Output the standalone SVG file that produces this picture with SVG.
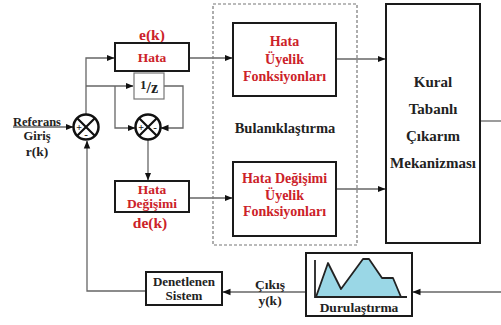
<svg xmlns="http://www.w3.org/2000/svg" width="501" height="325" viewBox="0 0 501 325">
<style>
.box{fill:#fff;stroke:#1a1a1a;stroke-width:2}
.thin{fill:#fff;stroke:#777;stroke-width:1.2}
.ln{fill:none;stroke:#666;stroke-width:1.3}
.arr{fill:none;stroke:#666;stroke-width:1.3;marker-end:url(#ah)}
text{font-family:'Liberation Serif','Times New Roman',serif;font-weight:bold;text-anchor:middle;fill:#222}
.r{fill:#cc2229}
.sum{fill:#fff;stroke:#111;stroke-width:2.5}
.x{stroke:#111;stroke-width:2.2}
</style>
<defs>
<marker id="ah" viewBox="0 0 8 8" refX="7.5" refY="4" markerWidth="8" markerHeight="8" markerUnits="userSpaceOnUse" orient="auto">
<path d="M0,0.8 L8,4 L0,7.2 Z" fill="#111"/>
</marker>
</defs>
<rect width="501" height="325" fill="#fff"/>

<g id="connectors">
<path class="arr" d="M13,127 H73"/>
<path class="arr" d="M86,114 V58 H114"/>
<path class="arr" d="M86,86 H133"/>
<path class="arr" d="M115,86 V128 H135"/>
<path class="arr" d="M164,86 H183 V128 H161"/>
<path class="arr" d="M148,140 V180"/>
<path class="arr" d="M189,58 H232"/>
<path class="arr" d="M189,198 H232"/>
<path class="arr" d="M336,59 H385"/>
<path class="arr" d="M336,189 H385"/>
<path class="ln" d="M480,121 H501"/>
<path class="arr" d="M501,292 H413"/>
<path class="arr" d="M306,292 H223"/>
<path class="arr" d="M146,291 H87 V141"/>
</g>

<g id="bulaniklastirma">
<rect x="213" y="4" width="144" height="241" fill="none" stroke="#777" stroke-width="1.2" stroke-dasharray="3,2"/>
<text x="285" y="133" font-size="14.5">Bulanıklaştırma</text>
</g>

<g id="input-label">
<text x="37" y="126" font-size="12.5">Referans</text>
<text x="37" y="140" font-size="12.5">Giriş</text>
<text x="37" y="156" font-size="13.5">r(k)</text>
</g>

<g id="sum1">
<circle class="sum" cx="86" cy="127" r="12.5"/>
<path class="x" d="M77.2,118.2 L94.8,135.8 M94.8,118.2 L77.2,135.8"/>
<text x="79" y="131" font-size="10">+</text>
<text x="86" y="138" font-size="11">-</text>
</g>

<g id="sum2">
<circle class="sum" cx="148" cy="127" r="12.5"/>
<path class="x" d="M139.2,118.2 L156.8,135.8 M156.8,118.2 L139.2,135.8"/>
<text x="141" y="131" font-size="10">+</text>
<text x="155" y="131" font-size="11">-</text>
</g>

<g id="hata">
<text class="r" x="152" y="40" font-size="15.5">e(k)</text>
<rect class="box" x="115" y="43" width="74" height="28"/>
<text class="r" x="152" y="62" font-size="13.5">Hata</text>
</g>

<g id="delay">
<rect class="thin" x="134" y="73" width="30" height="26"/>
<text x="149" y="93" font-size="16"><tspan font-size="13" dy="-4">1</tspan><tspan dy="4">/z</tspan></text>
</g>

<g id="hata-degisimi">
<rect class="box" x="115" y="181" width="74" height="31"/>
<text class="r" x="152" y="194" font-size="13.5">Hata</text>
<text class="r" x="152" y="208" font-size="13.5">Değişimi</text>
<text class="r" x="150" y="228" font-size="15.5">de(k)</text>
</g>

<g id="hata-uyelik">
<rect class="box" x="233" y="23" width="103" height="73"/>
<text class="r" x="284.5" y="46" font-size="14">Hata</text>
<text class="r" x="284.5" y="64" font-size="14">Üyelik</text>
<text class="r" x="284.5" y="81" font-size="14">Fonksiyonları</text>
</g>

<g id="hata-degisimi-uyelik">
<rect class="box" x="233" y="162" width="103" height="74"/>
<text class="r" x="284.5" y="183" font-size="14">Hata Değişimi</text>
<text class="r" x="284.5" y="200" font-size="14">Üyelik</text>
<text class="r" x="284.5" y="216" font-size="14">Fonksiyonları</text>
</g>

<g id="kural">
<rect class="box" x="386" y="4" width="94" height="239"/>
<text x="433" y="87" font-size="15">Kural</text>
<text x="433" y="114" font-size="15">Tabanlı</text>
<text x="433" y="141" font-size="15">Çıkarım</text>
<text x="433" y="168" font-size="15">Mekanizması</text>
</g>

<g id="durulastirma">
<rect class="box" x="306" y="253" width="106" height="63"/>
<polygon points="316,297 328,263 341,289 363,259 369,259 382,278 393,278 401,297" fill="#9ad7e6" stroke="#222" stroke-width="1.8" stroke-linejoin="round"/>
<path d="M315,260 V297 H407" fill="none" stroke="#222" stroke-width="1.8"/>
<text x="359" y="312" font-size="13.5">Durulaştırma</text>
</g>

<g id="cikis-label">
<text x="270" y="289" font-size="13.5">Çıkış</text>
<text x="270" y="305" font-size="13.5">y(k)</text>
</g>

<g id="denetlenen">
<rect class="box" x="146" y="272" width="76" height="33"/>
<text x="184" y="286" font-size="13">Denetlenen</text>
<text x="184" y="300" font-size="13">Sistem</text>
</g>
</svg>
